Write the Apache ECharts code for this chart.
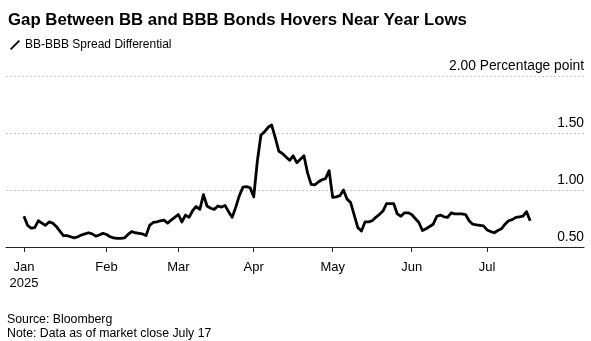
<!DOCTYPE html>
<html>
<head>
<meta charset="utf-8">
<script src="https://cdn.jsdelivr.net/npm/echarts@6/dist/echarts.min.js"></script>
<style>
html,body{margin:0;padding:0;background:#fff;}
#c{width:591px;height:341px;}
</style>
</head>
<body>
<div id="c"></div>
<script>
// Trading-day index (weekdays from Jan 1, 2025) of each month start tick
const monthTickIdx = [0, 23, 43, 64, 86, 108, 129];
const monthLabels = ['Jan\n2025', 'Feb', 'Mar', 'Apr', 'May', 'Jun', 'Jul'];
const yTicks = [0.5, 1.0, 1.5, 2.0];
// BB-BBB spread differential, one value per weekday Jan 1 .. Jul 17, 2025
const spread = [
  0.77, 0.69, 0.665, 0.67, 0.73, 0.71, 0.69, 0.72, 0.71, 0.68,
  0.64, 0.60, 0.60, 0.59, 0.58, 0.59, 0.605, 0.615, 0.625, 0.615,
  0.595, 0.605, 0.62, 0.61, 0.59, 0.58, 0.575, 0.575, 0.58, 0.61,
  0.635, 0.625, 0.62, 0.615, 0.60, 0.69, 0.715, 0.72, 0.73, 0.735,
  0.71, 0.735, 0.76, 0.785, 0.72, 0.78, 0.76, 0.82, 0.855, 0.83,
  0.96, 0.86, 0.84, 0.83, 0.86, 0.85, 0.865, 0.81, 0.76, 0.85,
  0.95, 1.025, 1.03, 1.02, 0.94, 1.25, 1.48, 1.51, 1.55, 1.57,
  1.46, 1.34, 1.32, 1.29, 1.26, 1.30, 1.24, 1.27, 1.30, 1.15,
  1.05, 1.045, 1.07, 1.09, 1.10, 1.17, 0.935, 0.94, 0.95, 1.0,
  0.92, 0.89, 0.78, 0.67, 0.64, 0.72, 0.72, 0.73, 0.76, 0.785,
  0.815, 0.88, 0.88, 0.88, 0.79, 0.77, 0.80, 0.80, 0.785, 0.75,
  0.715, 0.645, 0.66, 0.68, 0.70, 0.77, 0.78, 0.765, 0.76, 0.80,
  0.79, 0.79, 0.79, 0.785, 0.73, 0.70, 0.695, 0.69, 0.685, 0.65,
  0.635, 0.625, 0.645, 0.66, 0.70, 0.73, 0.74, 0.76, 0.765, 0.77,
  0.81, 0.73
];

const FONT = 'Liberation Sans, Arial, Helvetica, sans-serif';
const chart = echarts.init(document.getElementById('c'), null, {renderer: 'canvas'});
const seriesData = spread.map((v, i) => [i, v]);

chart.setOption({
  animation: false,
  backgroundColor: '#fff',
  title: {
    text: 'Gap Between BB and BBB Bonds Hovers Near Year Lows',
    left: 3, top: 7,
    textStyle: {fontFamily: FONT, fontSize: 16.8, fontWeight: 'bold', color: '#000'}
  },
  legend: {
    left: 5, top: 34,
    itemWidth: 10, itemHeight: 10, itemGap: 6,
    icon: 'path://M0 9 L1.4 10.4 L10.4 1.4 L9 0 Z',
    textStyle: {fontFamily: FONT, fontSize: 12, color: '#000'},
    data: [{name: 'BB-BBB Spread Differential', itemStyle: {color: '#000'}}]
  },
  grid: {left: 6, right: 7, top: 76, bottom: 94, containLabel: false, outerBoundsMode: 'none'},
  xAxis: {
    type: 'value', min: -5, max: 156,
    axisLine: {show: true, lineStyle: {color: '#222', width: 1}},
    axisTick: {show: true, length: 5, lineStyle: {color: '#222'}, customValues: monthTickIdx},
    axisLabel: {
      show: true, customValues: monthTickIdx, margin: 12,
      fontFamily: FONT, fontSize: 13, color: '#000', lineHeight: 16,
      formatter: v => { const k = monthTickIdx.indexOf(Math.round(v)); return k >= 0 ? monthLabels[k] : ''; }
    },
    splitLine: {show: false}
  },
  yAxis: {
    type: 'value', position: 'right', min: 0.5, max: 2.0, interval: 0.5,
    axisLine: {show: false}, axisTick: {show: false},
    axisLabel: {
      inside: true, margin: 0, verticalAlign: 'bottom', align: 'right',
      fontFamily: FONT, fontSize: 13.8, color: '#000', padding: [0, 0, 3, 0],
      formatter: v => v === 2 ? '2.00 Percentage point' : v.toFixed(2)
    },
    splitLine: {show: true, lineStyle: {color: '#c8c8c8', type: [2, 2], width: 1}}
  },
  series: [{
    name: 'BB-BBB Spread Differential',
    type: 'line', data: seriesData, showSymbol: false, symbol: 'none',
    lineStyle: {color: '#000', width: 2.8, join: 'round'},
    itemStyle: {color: '#000'}
  }],
  graphic: [
    {type: 'text', left: 7, top: 314, style: {text: 'Source: Bloomberg', font: '12.3px ' + FONT, fill: '#000'}},
    {type: 'text', left: 7, top: 328, style: {text: 'Note: Data as of market close July 17', font: '12.3px ' + FONT, fill: '#000'}}
  ]
});
</script>
</body>
</html>
